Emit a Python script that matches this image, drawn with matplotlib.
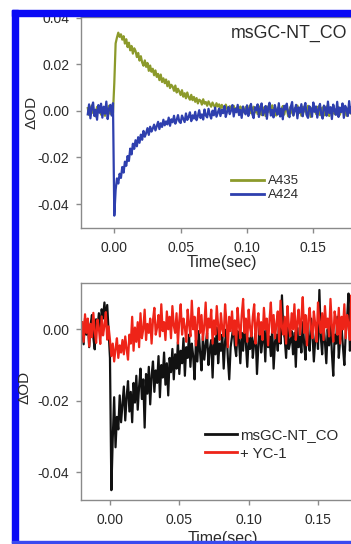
import numpy as np
import matplotlib
matplotlib.use("Agg")
import matplotlib.pyplot as plt
from matplotlib.patches import Rectangle

plt.rcParams['font.family'] = ['Liberation Sans', 'DejaVu Sans']

# sampling grid (ms)
time_ms = np.arange(-20, 181)

# ---- top panel (values in mOD) ----
a435 = [1.2,-1.8,0.5,2.3,-0.9,0.4,-2.4,1.7,-0.3,2.0,-1.6,0.8,1.3,-2.1,0.7,-0.6,2.2,-1.3,0.1,-0.8,
        12.0,29.0,31.5,33.6,31.8,32.9,30.6,32.1,28.9,30.8,
        27.4,29.3,26.0,27.9,24.6,26.9,25.8,23.1,24.9,21.6,
        23.5,20.8,19.4,21.7,18.9,20.6,17.2,19.5,16.8,18.1,
        15.3,17.4,14.6,15.9,13.2,15.6,12.4,14.0,11.9,13.5,
        10.6,12.7,9.8,11.2,10.4,8.6,10.9,7.9,9.5,8.3,
        6.8,8.9,6.1,7.6,5.4,7.9,5.9,4.8,6.9,4.6,
        6.0,3.9,5.5,3.2,4.8,4.4,2.7,5.0,3.1,3.8,
        2.2,4.1,2.9,1.8,3.6,2.4,1.3,3.3,1.9,2.8,
        0.9,2.6,1.4,0.3,2.7,1.1,-0.2,2.0,1.5,0.4,
        2.2,-0.5,1.3,0.8,-1.1,1.9,0.2,1.0,-0.8,1.6,
        1.6,-0.2,2.2,-1.0,0.9,1.8,-0.7,1.1,-1.4,2.0,
        0.3,-1.8,1.5,0.6,-2.2,1.9,-0.4,1.0,-1.2,2.4,
        -0.5,1.3,-2.0,0.8,1.7,-1.1,0.2,2.1,-1.6,0.7,
        1.4,-2.3,0.5,1.9,-0.8,-1.9,1.2,0.0,2.3,-1.0,
        0.6,-2.1,1.8,-0.3,1.0,-1.5,2.2,0.4,-2.6,1.3,
        -0.2,1.7,-1.3,0.9,2.0,-1.8,0.3,1.5,-2.0,0.8,
        1.9,-0.7,-2.2,1.1,0.2,2.4,-1.4,0.6,-0.9,1.6,
        -1.7,0.4,2.1,-0.6,1.2,-2.1,0.9,1.8,-1.1,0.3,
        1.0]

a424 = [-1.5,2.8,-3.2,1.4,3.6,-2.2,0.5,-3.8,2.5,-0.8,3.1,-2.9,1.8,-1.2,4.0,-3.5,0.9,2.6,-2.0,3.3,
        -45.0,-34.0,-29.0,-31.2,-27.0,-28.8,-24.1,-26.5,-21.8,-23.6,
        -19.4,-21.5,-16.2,-18.7,-14.1,-16.3,-12.6,-15.2,-11.3,-13.7,
        -10.2,-12.4,-8.6,-11.1,-9.5,-7.4,-10.3,-6.8,-8.9,-7.6,
        -5.9,-8.4,-6.6,-4.7,-7.8,-5.3,-6.9,-3.8,-6.2,-4.5,
        -5.8,-2.9,-6.4,-3.6,-4.9,-2.1,-5.5,-3.9,-1.8,-4.6,
        -5.2,-2.0,-3.4,-4.8,-1.1,-3.9,-2.6,-0.6,-4.4,-1.9,
        -3.3,-0.4,-4.0,-2.2,0.3,-3.1,-1.5,-3.7,0.6,-2.0,
        -2.8,0.9,-1.6,-3.3,0.1,-1.9,1.4,-2.5,-0.7,1.0,
        -2.2,0.5,-1.0,2.1,-2.6,-0.3,1.7,-1.4,0.2,2.5,
        -2.4,0.9,-0.6,2.6,-1.8,0.4,-3.0,1.9,-0.2,-1.5,
        2.4,-2.2,0.7,3.0,-1.3,-3.1,1.6,0.2,2.8,-2.6,
        0.9,3.2,-1.9,-0.3,2.1,-3.4,1.3,3.5,-2.0,0.4,
        -2.8,2.5,0.1,-1.6,3.3,-2.4,1.0,-3.6,2.2,0.6,
        3.1,-1.1,-2.7,1.7,3.8,-2.0,0.3,2.6,-3.2,1.5,
        -0.7,2.9,-2.3,1.1,3.4,-1.8,-3.0,2.0,0.8,-2.5,
        3.6,-0.4,1.9,-2.9,0.6,3.0,-1.4,-3.3,2.3,1.2,
        -2.1,4.0,-0.9,1.6,-3.5,2.7,0.2,-1.7,3.9,-2.6,
        1.4,-0.5,3.2,-3.0,2.2,0.7,-2.2,4.2,-1.0,1.8,
        -0.8]

# ---- bottom panel (values in mOD) ----
msgc = [0.5,-4.2,3.1,-1.5,2.6,-5.0,1.2,4.0,-2.3,-5.6,2.8,0.2,4.5,-1.8,5.6,3.0,7.5,2.2,6.8,-0.5,
        -8.0,-45.0,-30.5,-19.0,-33.0,-24.5,-28.0,-18.5,-26.0,-21.0,
        -16.0,-25.5,-19.0,-14.5,-23.0,-17.5,-26.0,-15.0,-20.5,-13.0,
        -22.5,-16.0,-11.0,-19.5,-14.0,-27.5,-12.5,-18.0,-10.5,-21.0,
        -13.0,-9.0,-17.5,-11.5,-15.0,-7.5,-19.0,-10.0,-13.5,-6.5,
        -15.5,-9.5,-18.5,-8.0,-12.0,-5.5,-14.0,-7.0,-11.0,-3.5,
        -12.5,-6.0,-9.5,-2.5,-13.0,-5.0,-8.0,-1.5,-10.5,-4.0,
        -7.5,-14.0,-3.0,-9.0,-0.5,-6.5,-11.5,-2.0,-8.5,-4.5,
        -1.0,-10.0,-5.5,-3.0,-13.5,-2.5,-7.0,0.5,-9.5,-4.0,
        -6.0,-1.5,-11.0,-3.5,0.0,-8.0,-14.0,-5.0,-2.0,1.0,
        -4.5,-7.5,-0.5,-3.0,-9.5,-1.0,-6.0,2.0,-4.0,-10.5,
        -2.5,-5.5,0.5,-8.0,-3.5,-1.0,-12.5,-4.5,1.5,-6.5,
        -3.0,-0.5,-9.0,2.5,-5.0,-2.0,-7.5,0.0,-11.0,-3.5,
        -1.5,-6.0,3.0,-4.0,9.5,-0.5,-2.5,-8.0,1.0,-5.5,
        -3.5,-0.5,-7.0,-1.0,-10.5,0.5,-5.0,-2.0,-6.5,2.0,
        -4.0,-8.5,1.5,-2.5,-6.0,3.0,-1.0,-9.0,-3.0,0.5,
        -5.5,11.0,-2.0,-7.0,1.5,-3.5,-9.5,0.0,-4.5,2.5,
        -6.5,-13.0,-1.5,-4.0,3.5,-8.0,-2.5,0.5,-5.0,-10.0,
        -1.0,3.0,10.0,-6.0,-2.0,-7.5,1.0,-3.5,-9.0,0.0,
        -4.0]

yc1 = [2.0,-3.5,4.2,-1.0,3.0,-4.8,1.5,-2.2,4.6,-0.5,-3.8,2.7,0.3,-4.1,3.6,-1.7,1.0,4.8,-2.9,0.8,
       -3.0,-7.5,-4.0,-9.0,-5.5,-2.5,-8.0,-4.5,-6.5,-3.0,
       -7.0,-2.0,-5.5,-8.5,-1.5,-4.0,3.5,-6.0,0.5,-3.5,
       2.0,-5.0,4.5,-2.5,0.0,5.5,-3.0,1.5,-1.0,3.0,
       -4.0,2.5,6.0,-1.5,0.5,4.0,-2.0,7.0,-0.5,2.0,
       -3.0,5.0,0.0,3.5,-2.5,6.5,1.0,-1.0,4.5,-4.0,
       2.5,7.0,-1.5,3.0,0.5,-3.5,5.5,1.5,-2.0,8.0,
       0.0,3.5,-4.5,2.0,6.0,-1.0,4.0,-3.0,1.0,7.5,
       -2.5,3.0,0.5,5.5,-4.0,2.5,-1.5,6.5,1.0,-3.0,
       4.5,0.0,-2.0,7.0,2.0,-5.0,3.5,-0.5,5.0,-1.5,
       2.5,-4.5,6.0,1.0,-2.5,4.0,8.5,-1.0,3.0,-3.5,
       5.5,0.5,-2.0,3.5,7.0,-4.0,1.5,4.5,-1.5,2.0,
       -3.0,6.0,0.0,3.0,-4.5,2.5,7.5,-1.0,4.0,-2.5,
       1.5,5.0,-3.5,8.0,0.5,-1.5,3.5,-4.0,6.5,1.0,
       -2.0,4.5,0.0,7.0,-3.0,2.0,5.5,-1.5,3.0,9.0,
       -1.0,4.0,-4.5,2.5,6.0,0.0,-2.5,5.0,1.5,-3.5,
       7.5,2.0,-1.0,4.5,-3.0,6.5,0.5,3.0,-2.0,8.5,
       1.0,-3.5,5.0,2.5,-1.5,6.0,-4.0,3.5,0.0,7.0,
       -2.5,4.0,1.5,-3.0,9.5,2.0,-1.0,5.5,0.5,-2.0,
       3.0]

for name, arr in [('a435', a435), ('a424', a424), ('msgc', msgc), ('yc1', yc1)]:
    assert len(arr) == len(time_ms), (name, len(arr))

t = time_ms / 1000.0
top_ticks = [-0.04, -0.02, 0.00, 0.02, 0.04]
bot_ticks = [-0.04, -0.02, 0.00]
x_ticks = [0.00, 0.05, 0.10, 0.15]

W, H = 351, 544
fig = plt.figure(figsize=(W / 100, H / 100), dpi=100)
fig.patch.set_facecolor('white')

def px(x0, y_top, x1, y_bot):
    return [x0 / W, 1 - y_bot / H, (x1 - x0) / W, (y_bot - y_top) / H]

txt_col = '#2a2a2a'
spine_col = '#8a8a8a'
LW = 1.6

def style(ax):
    for s in ['left', 'bottom', 'top']:
        ax.spines[s].set_color(spine_col)
        ax.spines[s].set_linewidth(1.0)
    ax.spines['right'].set_visible(False)
    ax.tick_params(axis='both', direction='out', length=3.5, width=1.0,
                   color=spine_col, labelcolor=txt_col, labelsize=10)
    ax.tick_params(axis='x', pad=6)
    ax.tick_params(axis='y', pad=5)
    ax.tick_params(top=False, right=False)
    ax.set_xticks(x_ticks)
    ax.set_xticklabels([f"{v:.2f}" for v in x_ticks])

# Top panel
ax1 = fig.add_axes(px(81, 17.3, 351, 228))
ax1.plot(t, np.array(a435) / 1000, color='#8c9a2b', lw=LW, label='A435')
ax1.plot(t, np.array(a424) / 1000, color='#2e3fae', lw=LW, label='A424')
ax1.set_xlim(-0.0251, 0.1784)
ax1.set_ylim(-0.0503, 0.0402)
ax1.set_yticks(top_ticks)
ax1.set_yticklabels([f"{v:.2f}" for v in top_ticks])
style(ax1)
ax1.set_ylabel('ΔOD', fontsize=11, color=txt_col)
ax1.yaxis.set_label_coords((39 - 81) / 270, 1 - (112 - 17.3) / 210.7)
ax1.set_xlabel('Time(sec)', fontsize=11.5, color=txt_col)
ax1.xaxis.set_label_coords((222 - 81) / 270, -(255 - 228) / 210.7)
leg1 = ax1.legend(loc='upper left', bbox_to_anchor=(231 / W, 1 - 175 / H),
                  bbox_transform=fig.transFigure, frameon=False, fontsize=9.5,
                  handlelength=2.5, handletextpad=0.3, labelspacing=0.15,
                  borderpad=0, borderaxespad=0)
for line in leg1.get_lines():
    line.set_linewidth(2.0)
for text in leg1.get_texts():
    text.set_color(txt_col)

# Bottom panel
ax2 = fig.add_axes(px(81, 283, 351, 500))
ax2.plot(t, np.array(msgc) / 1000, color='#111111', lw=LW, label='msGC-NT_CO')
ax2.plot(t, np.array(yc1) / 1000, color='#ee2418', lw=LW, label='+ YC-1')
ax2.set_xlim(-0.0209, 0.1738)
ax2.set_ylim(-0.04775, 0.01295)
ax2.set_yticks(bot_ticks)
ax2.set_yticklabels([f"{v:.2f}" for v in bot_ticks])
style(ax2)
ax2.set_xlabel('Time(sec)', fontsize=11.5, color=txt_col)
ax2.xaxis.set_label_coords((223 - 81) / 270, -(531 - 500) / 217)
leg2 = ax2.legend(loc='upper left', bbox_to_anchor=(205 / W, 1 - 428 / H),
                  bbox_transform=fig.transFigure, frameon=False, fontsize=10.8,
                  handlelength=2.1, handletextpad=0.25, labelspacing=0.3,
                  borderpad=0, borderaxespad=0)
for line in leg2.get_lines():
    line.set_linewidth(2.0)
for text in leg2.get_texts():
    text.set_color(txt_col)

# panel title
fig.text(231 / W, 1 - 33 / H, 'msGC-NT_CO', fontsize=12.8, color=txt_col,
         ha='left', va='center')

# blue frame
blue = '#0a0af5'
fig.patches.append(Rectangle((12 / W, 1 - 16 / H), (W - 12) / W, 6 / H,
                             transform=fig.transFigure, color=blue, zorder=5))
fig.patches.append(Rectangle((12 / W, 1 - 543 / H), 6 / W, (543 - 10) / H,
                             transform=fig.transFigure, color=blue, zorder=5))
fig.patches.append(Rectangle((12 / W, 1 - 543 / H), (W - 12) / W, 2 / H,
                             transform=fig.transFigure, color='#3a4af0', zorder=5))

# bottom y-label sits right next to the frame in the reference
fig.text(24 / W, 1 - 387 / H, 'ΔOD', fontsize=11, color=txt_col, rotation=90,
         ha='center', va='center', zorder=10)

fig.savefig('out.png', dpi=100, facecolor='white')
